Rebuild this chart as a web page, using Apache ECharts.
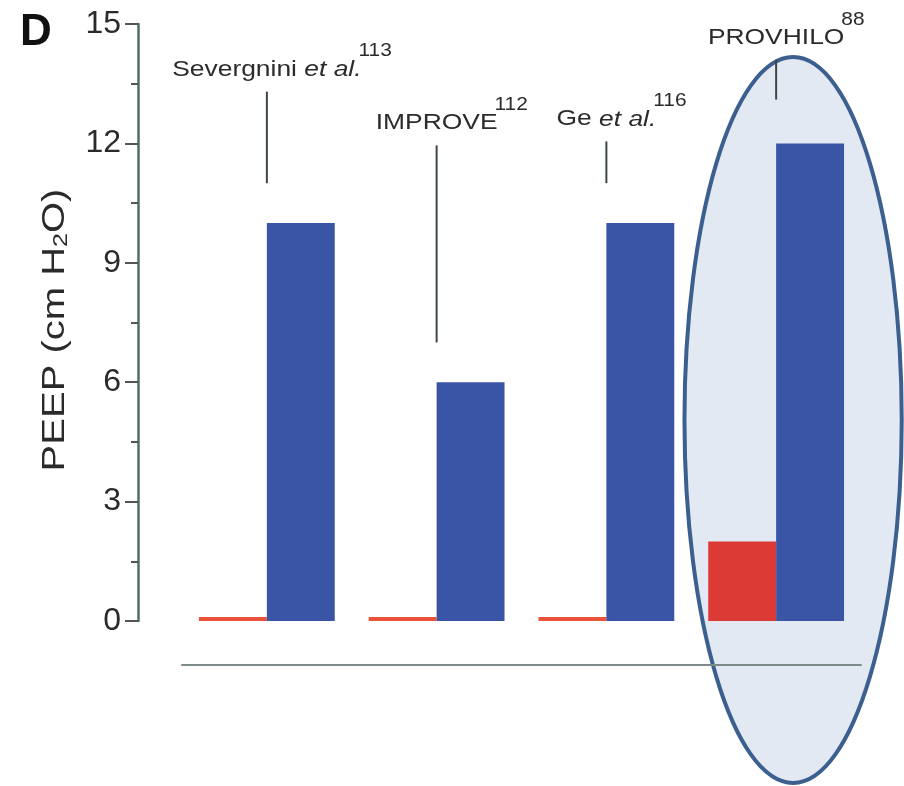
<!DOCTYPE html>
<html><head><meta charset="utf-8">
<script src="https://cdn.jsdelivr.net/npm/echarts@6/dist/echarts.min.js"></script>
<style>html,body{margin:0;padding:0;background:#fff}#c{width:904px;height:786px}</style>
</head><body><div id="c"></div>
<script>
// ---- data ----
const categories = ['Severgnini et al.', 'IMPROVE', 'Ge et al.', 'PROVHILO'];
const lowPeep = [0.1, 0.1, 0.1, 2];
const highPeep = [10, 6, 10, 12];
const studyMain = ['Severgnini ', 'IMPROVE', 'Ge ', 'PROVHILO'];
const studyItalic = ['et al.', '', 'et al.', ''];
const refNumbers = ['113', '112', '116', '88'];
const leaderTop = [13.3, 11.95, 12.05, 14.1];
const leaderBottom = [11.0, 7.0, 11.0, 13.1];
const yMin = 0, yMax = 15, yStep = 3;
const highlightCategory = 'PROVHILO';
const highlightCenterValue = 5.05;
const highlightHalfHeight = 9.12;

const FONT = '"Liberation Sans", Arial, Helvetica, sans-serif';
const chart = echarts.init(document.getElementById('c'), null, {renderer: 'canvas'});

const measureCtx = document.createElement('canvas').getContext('2d');
function textWidth(str, size, italic) {
  measureCtx.font = (italic ? 'italic ' : '') + size + 'px ' + FONT;
  return measureCtx.measureText(str).width;
}

const MAIN_SIZE = 22, MAIN_SCALE = 1.2, SUP_SIZE = 19;

function mainRich(i) {
  let s = '{n|' + studyMain[i] + '}';
  if (studyItalic[i]) s += '{it|' + studyItalic[i] + '}';
  return {
    text: s,
    align: 'center',
    verticalAlign: 'bottom',
    rich: {
      n: {fontSize: MAIN_SIZE, lineHeight: MAIN_SIZE, fontFamily: FONT, fill: '#2b2b2b'},
      it: {fontSize: MAIN_SIZE, lineHeight: MAIN_SIZE, fontFamily: FONT, fontStyle: 'italic', fill: '#2b2b2b'}
    }
  };
}

const option = {
  animation: false,
  backgroundColor: '#ffffff',
  grid: {left: 182, right: 43, top: 24, bottom: 165, containLabel: false},
  xAxis: {
    type: 'category',
    data: categories,
    offset: 44,
    z: 3,
    axisLine: {show: true, onZero: false, lineStyle: {color: '#7d8a8a', width: 2}},
    axisTick: {show: false},
    axisLabel: {show: false},
    splitLine: {show: false}
  },
  yAxis: {
    type: 'value',
    min: yMin, max: yMax, interval: yStep,
    offset: 44,
    axisLine: {show: true, lineStyle: {color: '#4f6f66', width: 2.5}},
    axisTick: {show: true, length: 13, lineStyle: {color: '#555', width: 2}},
    minorTick: {show: true, splitNumber: 2, length: 7, lineStyle: {color: '#555', width: 2}},
    axisLabel: {fontSize: 32, color: '#2a2a2a', margin: 17, fontFamily: FONT},
    splitLine: {show: false}
  },
  graphic: [
    {type: 'text', left: 20, top: 11, style: {text: 'D', fontSize: 44, fontWeight: 'bold', fontFamily: FONT, fill: '#111'}},
    {type: 'text', x: 54, y: 330, rotation: Math.PI / 2, scaleX: 1.25,
     style: {text: '{a|PEEP (cm H}{s|2}{a|O)}', align: 'center', verticalAlign: 'middle',
       rich: {a: {fontSize: 32, lineHeight: 34, fontFamily: FONT, fill: '#2a2a2a', verticalAlign: 'bottom'},
              s: {fontSize: 20, lineHeight: 22, fontFamily: FONT, fill: '#2a2a2a', verticalAlign: 'bottom'}}}}
  ],
  series: [
    {
      type: 'custom',
      name: 'highlight',
      z: 1,
      silent: true,
      data: [[categories.indexOf(highlightCategory), highlightCenterValue, highlightHalfHeight]],
      renderItem: function (params, api) {
        const c = api.coord([api.value(0), api.value(1)]);
        const sz = api.size([1, api.value(2)]);
        return {
          type: 'ellipse',
          shape: {cx: c[0] + 0.1 * sz[0], cy: c[1], rx: 0.64 * sz[0], ry: sz[1]},
          style: {fill: '#e2e9f3', stroke: '#3b5f8e', lineWidth: 4}
        };
      }
    },
    {
      type: 'bar', name: 'low', data: lowPeep, barWidth: '40%', barGap: '0%', z: 2,
      itemStyle: {color: function (p) { return p.value < 0.5 ? '#ea5339' : '#dc3b35'; }}
    },
    {
      type: 'bar', name: 'high', data: highPeep, barWidth: '40%', barGap: '0%', z: 2,
      itemStyle: {color: '#3b55a6'}
    },
    {
      type: 'custom',
      name: 'labels',
      z: 4,
      silent: true,
      data: categories.map((c, i) => [i, leaderTop[i], leaderBottom[i]]),
      renderItem: function (params, api) {
        const i = params.dataIndex;
        const t = api.coord([api.value(0), api.value(1)]);
        const b = api.coord([api.value(0), api.value(2)]);
        const w = (textWidth(studyMain[i], MAIN_SIZE, false) + textWidth(studyItalic[i], MAIN_SIZE, true)) * MAIN_SCALE;
        const yText = t[1] - 11;
        return {
          type: 'group',
          children: [
            {type: 'line', shape: {x1: t[0], y1: t[1], x2: b[0], y2: b[1]},
             style: {stroke: '#3d4744', lineWidth: 2}},
            {type: 'text', x: t[0], y: yText, scaleX: MAIN_SCALE, style: mainRich(i)},
            {type: 'text', x: t[0] + w / 2 - 3, y: yText - 20, scaleX: 1.1,
             style: {text: refNumbers[i], fontSize: SUP_SIZE, lineHeight: SUP_SIZE, fontFamily: FONT,
                     fill: '#2b2b2b', align: 'left', verticalAlign: 'bottom'}}
          ]
        };
      }
    }
  ]
};
chart.setOption(option);
</script>
</body></html>
